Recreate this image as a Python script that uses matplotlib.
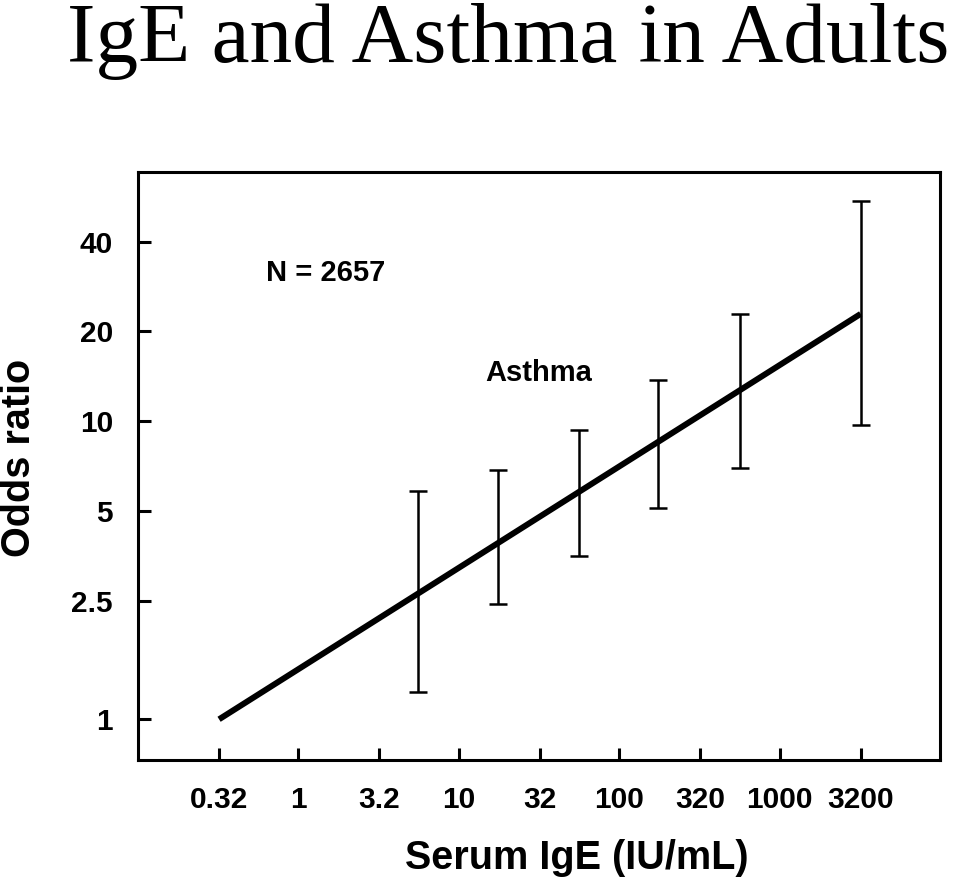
import matplotlib
matplotlib.use("Agg")
import matplotlib.pyplot as plt
import numpy as np

# Data
xticks = [0.32, 1, 3.2, 10, 32, 100, 320, 1000, 3200]
xtick_labels = ["0.32", "1", "3.2", "10", "32", "100", "320", "1000", "3200"]
yticks = [1, 2.5, 5, 10, 20, 40]
ytick_labels = ["1", "2.5", "5", "10", "20", "40"]

line_x = [0.32, 3200]
line_y = [1.0, 22.9]

err_x = [5.6, 17.5, 56, 175, 567, 3200]
err_center = [2.64, 3.9, 5.78, 8.5, 12.7, 22.9]
err_low = [1.23, 2.43, 3.52, 5.11, 6.95, 9.7]
err_high = [5.82, 6.85, 9.33, 13.7, 22.9, 54.7]

fig = plt.figure(figsize=(9.6, 8.85), dpi=100)
ax = fig.add_axes([0.1438, 0.1412, 0.8354, 0.6644])

ax.set_xscale("log")
ax.set_yscale("log")

ax.plot(line_x, line_y, color="black", lw=4.3, solid_capstyle="butt")
yerr = [np.array(err_center) - np.array(err_low), np.array(err_high) - np.array(err_center)]
ax.errorbar(err_x, err_center, yerr=yerr, fmt="none", ecolor="black",
            elinewidth=1.8, capsize=6.5, capthick=1.8)

ax.set_xlim(0.1, 10000)
ax.set_ylim(0.73, 68.5)

ax.set_xticks(xticks)
ax.set_xticklabels(xtick_labels)
ax.set_yticks(yticks)
ax.set_yticklabels(ytick_labels)
ax.minorticks_off()

bold = dict(family="Liberation Sans", weight="bold")
for lab in ax.get_xticklabels() + ax.get_yticklabels():
    lab.set_fontfamily("Liberation Sans")
    lab.set_fontweight("bold")
    lab.set_fontsize(21.5)

ax.tick_params(axis="both", direction="in", length=9, width=2.2, colors="black")
ax.tick_params(axis="x", pad=19)
ax.tick_params(axis="y", pad=18)

for s in ax.spines.values():
    s.set_linewidth(2.2)

ax.set_xlabel("Serum IgE (IU/mL)", fontsize=28.5, va="center", ha="center", **bold)
ax.set_ylabel("Odds ratio", fontsize=28.5, va="center", ha="center", **bold)
ax.xaxis.set_label_coords(0.547, -0.167)
ax.yaxis.set_label_coords(-0.149, 0.514)

ax.text(0.234, 0.828, "N = 2657", transform=ax.transAxes, ha="center", va="center",
        fontsize=21, **bold)
ax.text(0.499, 0.658, "Asthma", transform=ax.transAxes, ha="center", va="center",
        fontsize=21, **bold)

fig.text(0.529, 0.930, "IgE and Asthma in Adults", ha="center", va="baseline",
         fontsize=61.5, family="Liberation Serif")

fig.savefig("out.png", dpi=100)
